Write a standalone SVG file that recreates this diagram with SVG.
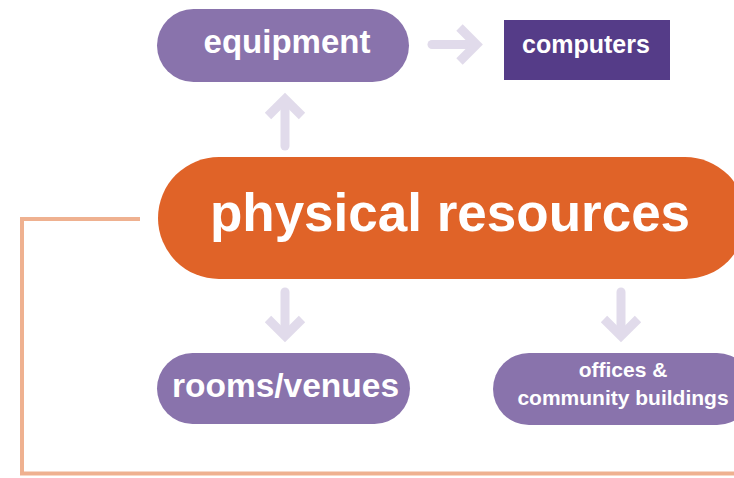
<svg xmlns="http://www.w3.org/2000/svg" width="734" height="478" viewBox="0 0 734 478">
  <style>
    .pill { fill: #8973ac; }
    .dark { fill: #553c88; }
    .main { fill: #e06328; }
    .lbl { font-family: "Liberation Sans", Arial, sans-serif; font-weight: bold; fill: #ffffff; text-anchor: middle; }
    .shaft { stroke: #e1dbeb; stroke-width: 9; stroke-linecap: round; fill: none; }
    .head { stroke: #e1dbeb; stroke-width: 9; stroke-linecap: butt; stroke-linejoin: miter; fill: none; }
    .frame { stroke: #efb190; stroke-width: 4; fill: none; stroke-linejoin: miter; }
  </style>
  <rect width="734" height="478" fill="#ffffff"/>
  <g id="connectors">
    <path class="frame" d="M140,219 H22 V473.5 H734"/>
    <line class="shaft" x1="432" y1="44.5" x2="474" y2="44.5"/>
    <polyline class="head" points="459.5,27.5 476.5,44.5 459.5,61.5"/>
    <line class="shaft" x1="285" y1="146" x2="285" y2="102"/>
    <polyline class="head" points="268,116 285,99 302,116"/>
    <line class="shaft" x1="285" y1="292" x2="285" y2="333"/>
    <polyline class="head" points="268,319 285,336 302,319"/>
    <line class="shaft" x1="621" y1="292" x2="621" y2="333"/>
    <polyline class="head" points="604,319 621,336 638,319"/>
  </g>
  <g id="physical-resources">
    <rect class="main" x="158" y="157" width="588" height="122" rx="61" ry="61"/>
    <text class="lbl" x="450" y="231" font-size="53">physical resources</text>
  </g>
  <g id="equipment">
    <rect class="pill" x="157" y="9" width="252" height="73" rx="36.5" ry="36.5"/>
    <text class="lbl" x="287" y="53" font-size="33">equipment</text>
  </g>
  <g id="computers">
    <rect class="dark" x="504" y="20" width="166" height="60"/>
    <text class="lbl" x="586" y="53" font-size="25">computers</text>
  </g>
  <g id="rooms-venues">
    <rect class="pill" x="157" y="353" width="253" height="71" rx="35.5" ry="35.5"/>
    <text class="lbl" x="285.5" y="397" font-size="33.5">rooms/venues</text>
  </g>
  <g id="offices">
    <rect class="pill" x="493" y="353" width="260" height="72" rx="36" ry="36"/>
    <text class="lbl" x="623" y="377" font-size="21">offices &amp;</text>
    <text class="lbl" x="623" y="405" font-size="21">community buildings</text>
  </g>
</svg>
